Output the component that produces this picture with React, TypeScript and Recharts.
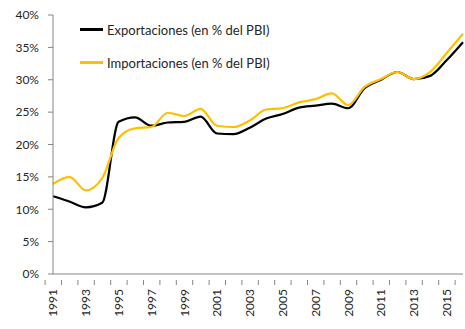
import { Legend, Line, LineChart, XAxis, YAxis } from "recharts";

const years = [
  "1991", "1992", "1993", "1994", "1995", "1996", "1997", "1998", "1999", "2000",
  "2001", "2002", "2003", "2004", "2005", "2006", "2007", "2008", "2009", "2010",
  "2011", "2012", "2013", "2014", "2015", "2016",
];
const exportaciones = [
  12.0, 11.2, 10.3, 11.0, 23.5, 24.2, 22.9, 23.4, 23.5, 24.3,
  21.7, 21.6, 22.6, 24.0, 24.7, 25.7, 26.0, 26.3, 25.6, 28.7,
  30.0, 31.2, 30.1, 30.6, 33.0, 35.8,
];
const importaciones = [
  13.9, 15.0, 12.9, 14.8, 21.0, 22.5, 22.7, 24.9, 24.4, 25.5,
  22.9, 22.7, 23.7, 25.4, 25.6, 26.5, 27.0, 27.9, 26.1, 28.9,
  30.1, 31.2, 30.1, 31.2, 34.1, 37.1,
];
const yTicks = [0, 5, 10, 15, 20, 25, 30, 35, 40];

const data = years.map((y, i) => ({ year: y, exp: exportaciones[i], imp: importaciones[i] }));

const AXIS = "#868686";
const FONT = "Lato, 'Open Sans', sans-serif";
const PLOT_W = 410;
const STEP = PLOT_W / years.length;

function YearTick(props: any) {
  const { x, y, payload, index } = props;
  const yr = Number(payload.value);
  const last = index === years.length - 1;
  return (
    <g>
      <line x1={x - STEP / 2} y1={y - 2} x2={x - STEP / 2} y2={y + 3} stroke={AXIS} />
      {last && <line x1={x + STEP / 2} y1={y - 2} x2={x + STEP / 2} y2={y + 3} stroke={AXIS} />}
      {yr % 2 === 1 && (
        <text
          x={x}
          y={y + 7}
          transform={`rotate(-90, ${x}, ${y + 7})`}
          textAnchor="end"
          dy="0.36em"
          fill="#262626"
          fontSize={12}
          fontFamily={FONT}
        >
          {payload.value}
        </text>
      )}
    </g>
  );
}

function LegendBox({ payload }: any) {
  return (
    <div style={{ fontFamily: FONT, fontSize: 13, color: "#262626" }}>
      {payload.map((p: any, i: number) => (
        <div key={i} style={{ display: "flex", alignItems: "center", height: 33 }}>
          <span style={{ display: "inline-block", width: 23, height: 2.5, background: p.color, marginRight: 4 }} />
          <span>{p.value}</span>
        </div>
      ))}
    </div>
  );
}

export default function App() {
  return (
    <div style={{ position: "absolute", left: 0, top: 0, background: "#fff" }}>
      <LineChart width={465} height={329} data={data} margin={{ top: 15, right: 2, left: 0, bottom: 0 }}>
        <XAxis
          dataKey="year"
          interval={0}
          tickLine={false}
          axisLine={{ stroke: AXIS }}
          height={55}
          tick={<YearTick />}
        />
        <YAxis
          domain={[0, 40]}
          ticks={yTicks}
          width={53}
          tickSize={5}
          tickMargin={9}
          tickLine={{ stroke: AXIS }}
          axisLine={{ stroke: AXIS }}
          tickFormatter={(v: number) => `${v}%`}
          tick={{ fill: "#262626", fontSize: 12, fontFamily: FONT }}
        />
        <Legend
          layout="horizontal"
          verticalAlign="middle"
          align="center"
          wrapperStyle={{ top: 13, left: 80, width: 280 }}
          content={<LegendBox />}
        />
        <Line
          type="monotone"
          dataKey="exp"
          name="Exportaciones (en % del PBI)"
          stroke="#000000"
          strokeWidth={2.2}
          dot={false}
          isAnimationActive={false}
        />
        <Line
          type="monotone"
          dataKey="imp"
          name="Importaciones (en % del PBI)"
          stroke="#FFC000"
          strokeWidth={2.2}
          dot={false}
          isAnimationActive={false}
        />
      </LineChart>
    </div>
  );
}
